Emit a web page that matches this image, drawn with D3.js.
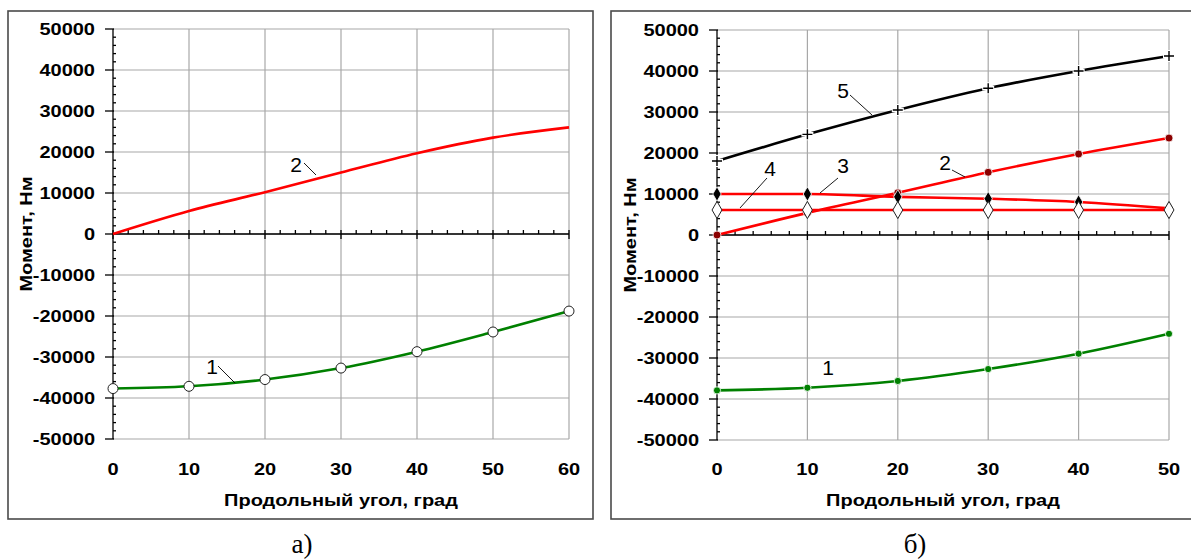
<!DOCTYPE html>
<html><head><meta charset="utf-8">
<script src="https://cdn.jsdelivr.net/npm/d3@7/dist/d3.min.js"></script>
<style>
html,body{margin:0;padding:0;background:#fff;}
svg{display:block;}
</style></head>
<body>
<svg id="chart" width="1191" height="560"></svg>
<script>
// ---- data ----
const anglesA = [0, 10, 20, 30, 40, 50, 60];
const seriesA1 = [-37700, -37150, -35500, -32700, -28700, -23900, -18800];
const seriesA2 = [0, 5600, 10200, 15000, 19700, 23500, 26000];

const anglesB = [0, 10, 20, 30, 40, 50];
const seriesB1 = [-37900, -37250, -35600, -32700, -28950, -24100];
const seriesB2 = [0, 5400, 10300, 15300, 19750, 23650];
const seriesB3 = [10000, 10000, 9300, 8850, 8050, 6500];
const seriesB4 = [6100, 6100, 6100, 6100, 6100, 6100];
const seriesB5 = [18050, 24550, 30500, 35800, 40000, 43650];

const yTicks = [50000, 40000, 30000, 20000, 10000, 0, -10000, -20000, -30000, -40000, -50000];
const xTicksA = [0, 10, 20, 30, 40, 50, 60];
const xTicksB = [0, 10, 20, 30, 40, 50];
const xTitle = "Продольный угол, град";
const yTitle = "Момент, Нм";
const captions = ["а)", "б)"];

const svg = d3.select("#chart");
const SX = 1.19;
const tickFont = "'Liberation Sans', Arial, sans-serif";

function wideText(parent, x, y, anchor, txt, rotate) {
  const t = `translate(${x},${y})` + (rotate ? " rotate(-90)" : "") + ` scale(${SX},1)`;
  return parent.append("text").attr("transform", t).attr("text-anchor", anchor).text(txt);
}

function panel(opt) {
  const g = svg.append("g");
  g.append("rect").attr("x", opt.frame[0]).attr("y", opt.frame[1])
    .attr("width", opt.frame[2]).attr("height", opt.frame[3])
    .attr("fill", "none").attr("stroke", "#4a4a4a").attr("stroke-width", 1.6);

  const x = d3.scaleLinear().domain(opt.xDomain).range([opt.x0, opt.x1]);
  const y = d3.scaleLinear().domain([-50000, 50000]).range([opt.yBot, opt.yTop]);

  const grid = g.append("g").attr("stroke", "#a8a8a8").attr("stroke-width", 1.2);
  yTicks.forEach(v => grid.append("line").attr("x1", x(opt.xDomain[0])).attr("x2", x(opt.xDomain[1]))
    .attr("y1", y(v)).attr("y2", y(v)));
  opt.xTicks.filter(v => v > opt.xDomain[0]).forEach(v => grid.append("line")
    .attr("x1", x(v)).attr("x2", x(v)).attr("y1", y(50000)).attr("y2", y(-50000)));

  const ax = g.append("g").attr("stroke", "#000").attr("stroke-width", 1.3);
  ax.append("line").attr("x1", x(0)).attr("x2", x(0)).attr("y1", y(50000)).attr("y2", y(-50000));
  yTicks.forEach(v => ax.append("line").attr("x1", x(0) - 8).attr("x2", x(0) + 1).attr("y1", y(v)).attr("y2", y(v)));
  d3.range(-50000, 50000, 2000).filter(v => v % 10000 !== 0).forEach(v =>
    ax.append("line").attr("x1", x(0)).attr("x2", x(0) + 3).attr("y1", y(v)).attr("y2", y(v)));
  ax.append("line").attr("x1", x(opt.xDomain[0])).attr("x2", x(opt.xDomain[1])).attr("y1", y(0)).attr("y2", y(0));
  opt.xTicks.forEach(v => ax.append("line").attr("x1", x(v)).attr("x2", x(v)).attr("y1", y(0) - 4).attr("y2", y(0) + 5));
  d3.range(opt.xDomain[0], opt.xDomain[1], 2).filter(v => v % 10 !== 0).forEach(v =>
    ax.append("line").attr("x1", x(v)).attr("x2", x(v)).attr("y1", y(0) - 4).attr("y2", y(0)));

  const tl = g.append("g").attr("font-family", tickFont).attr("font-weight", "bold")
    .attr("font-size", 16.8).attr("fill", "#000");
  yTicks.forEach(v => wideText(tl, x(0) - 18, y(v) + 5.5, "end", v));
  opt.xTicks.forEach(v => wideText(tl, x(v), 475, "middle", v));
  wideText(tl, (opt.x0 + opt.x1) / 2, 506, "middle", xTitle);
  wideText(tl, opt.yTitleX, (opt.yTop + opt.yBot) / 2, "middle", yTitle, true);

  svg.append("text").attr("x", opt.capX).attr("y", 553).attr("text-anchor", "middle")
    .attr("font-family", "'Liberation Serif', 'Times New Roman', serif").attr("font-size", 27)
    .text(opt.caption);

  return {g, x, y};
}

function drawLine(p, xs, ys, color, width) {
  const line = d3.line().x((d, i) => p.x(xs[i])).y(d => p.y(d)).curve(d3.curveMonotoneX);
  p.g.append("path").attr("d", line(ys)).attr("fill", "none").attr("stroke", color)
    .attr("stroke-width", width).attr("stroke-linejoin", "round");
}

function label(p, txt, tx, ty, lx1, ly1, lx2, ly2) {
  p.g.append("text").attr("x", tx).attr("y", ty).attr("text-anchor", "middle")
    .attr("font-family", tickFont).attr("font-size", 21).attr("fill", "#000").text(txt);
  if (lx1 !== undefined)
    p.g.append("line").attr("x1", lx1).attr("y1", ly1).attr("x2", lx2).attr("y2", ly2)
      .attr("stroke", "#000").attr("stroke-width", 0.9);
}

// ---- panel a ----
const pA = panel({frame: [8, 11, 585, 508], x0: 113, x1: 569, yTop: 29, yBot: 439,
  xDomain: [0, 60], xTicks: xTicksA, yTitleX: 32, capX: 302, caption: captions[0]});
drawLine(pA, anglesA, seriesA2, "#ff0000", 2.6);
drawLine(pA, anglesA, seriesA1, "#008000", 2.6);
pA.g.selectAll(".mA").data(seriesA1).enter().append("circle")
  .attr("cx", (d, i) => pA.x(anglesA[i])).attr("cy", d => pA.y(d)).attr("r", 5)
  .attr("fill", "#fff").attr("stroke", "#222").attr("stroke-width", 1);
label(pA, "2", 296, 172, 304, 163, 316, 175);
label(pA, "1", 212, 374, 218, 366, 235, 383);

// ---- panel b ----
const pB = panel({frame: [611, 11, 600, 508], x0: 717, x1: 1169, yTop: 30, yBot: 440,
  xDomain: [0, 50], xTicks: xTicksB, yTitleX: 636, capX: 915, caption: captions[1]});

drawLine(pB, anglesB, seriesB4, "#ff0000", 2.6);
drawLine(pB, anglesB, seriesB3, "#ff0000", 2.6);
drawLine(pB, anglesB, seriesB2, "#ff0000", 2.6);
drawLine(pB, anglesB, seriesB5, "#000000", 2.6);
drawLine(pB, anglesB, seriesB1, "#008000", 2.6);

pB.g.selectAll(".m1").data(seriesB1).enter().append("circle")
  .attr("cx", (d, i) => pB.x(anglesB[i])).attr("cy", d => pB.y(d)).attr("r", 3.6)
  .attr("fill", "#008000").attr("stroke", "#fff").attr("stroke-width", 0.8);
pB.g.selectAll(".m2").data(seriesB2).enter().append("circle")
  .attr("cx", (d, i) => pB.x(anglesB[i])).attr("cy", d => pB.y(d)).attr("r", 4)
  .attr("fill", "#8b0000").attr("stroke", "#fff").attr("stroke-width", 0.8);
const diamond = d3.symbol().type(d3.symbolDiamond);
pB.g.selectAll(".m3").data(seriesB3).enter().append("path")
  .attr("transform", (d, i) => `translate(${pB.x(anglesB[i])},${pB.y(d)})`)
  .attr("d", diamond.size(60)()).attr("fill", "#000").attr("stroke", "#fff").attr("stroke-width", 0.8);
pB.g.selectAll(".m4").data(seriesB4).enter().append("path")
  .attr("transform", (d, i) => `translate(${pB.x(anglesB[i])},${pB.y(d)})`)
  .attr("d", diamond.size(85)()).attr("fill", "#fff").attr("stroke", "#222").attr("stroke-width", 1);
const plusG = pB.g.selectAll(".m5").data(seriesB5).enter().append("g")
  .attr("transform", (d, i) => `translate(${pB.x(anglesB[i])},${pB.y(d)})`);
plusG.append("path").attr("d", "M-6,0H6M0,-6V6").attr("stroke", "#fff").attr("stroke-width", 4.5);
plusG.append("path").attr("d", "M-5,0H5M0,-5V5").attr("stroke", "#000").attr("stroke-width", 1.4);

label(pB, "5", 843, 98, 850, 95, 872, 115);
label(pB, "4", 770, 176, 767, 178, 740, 208);
label(pB, "3", 843, 173, 838, 178, 820, 193);
label(pB, "2", 945, 170, 952, 170, 965, 177);
label(pB, "1", 828, 375);
</script>
</body></html>
